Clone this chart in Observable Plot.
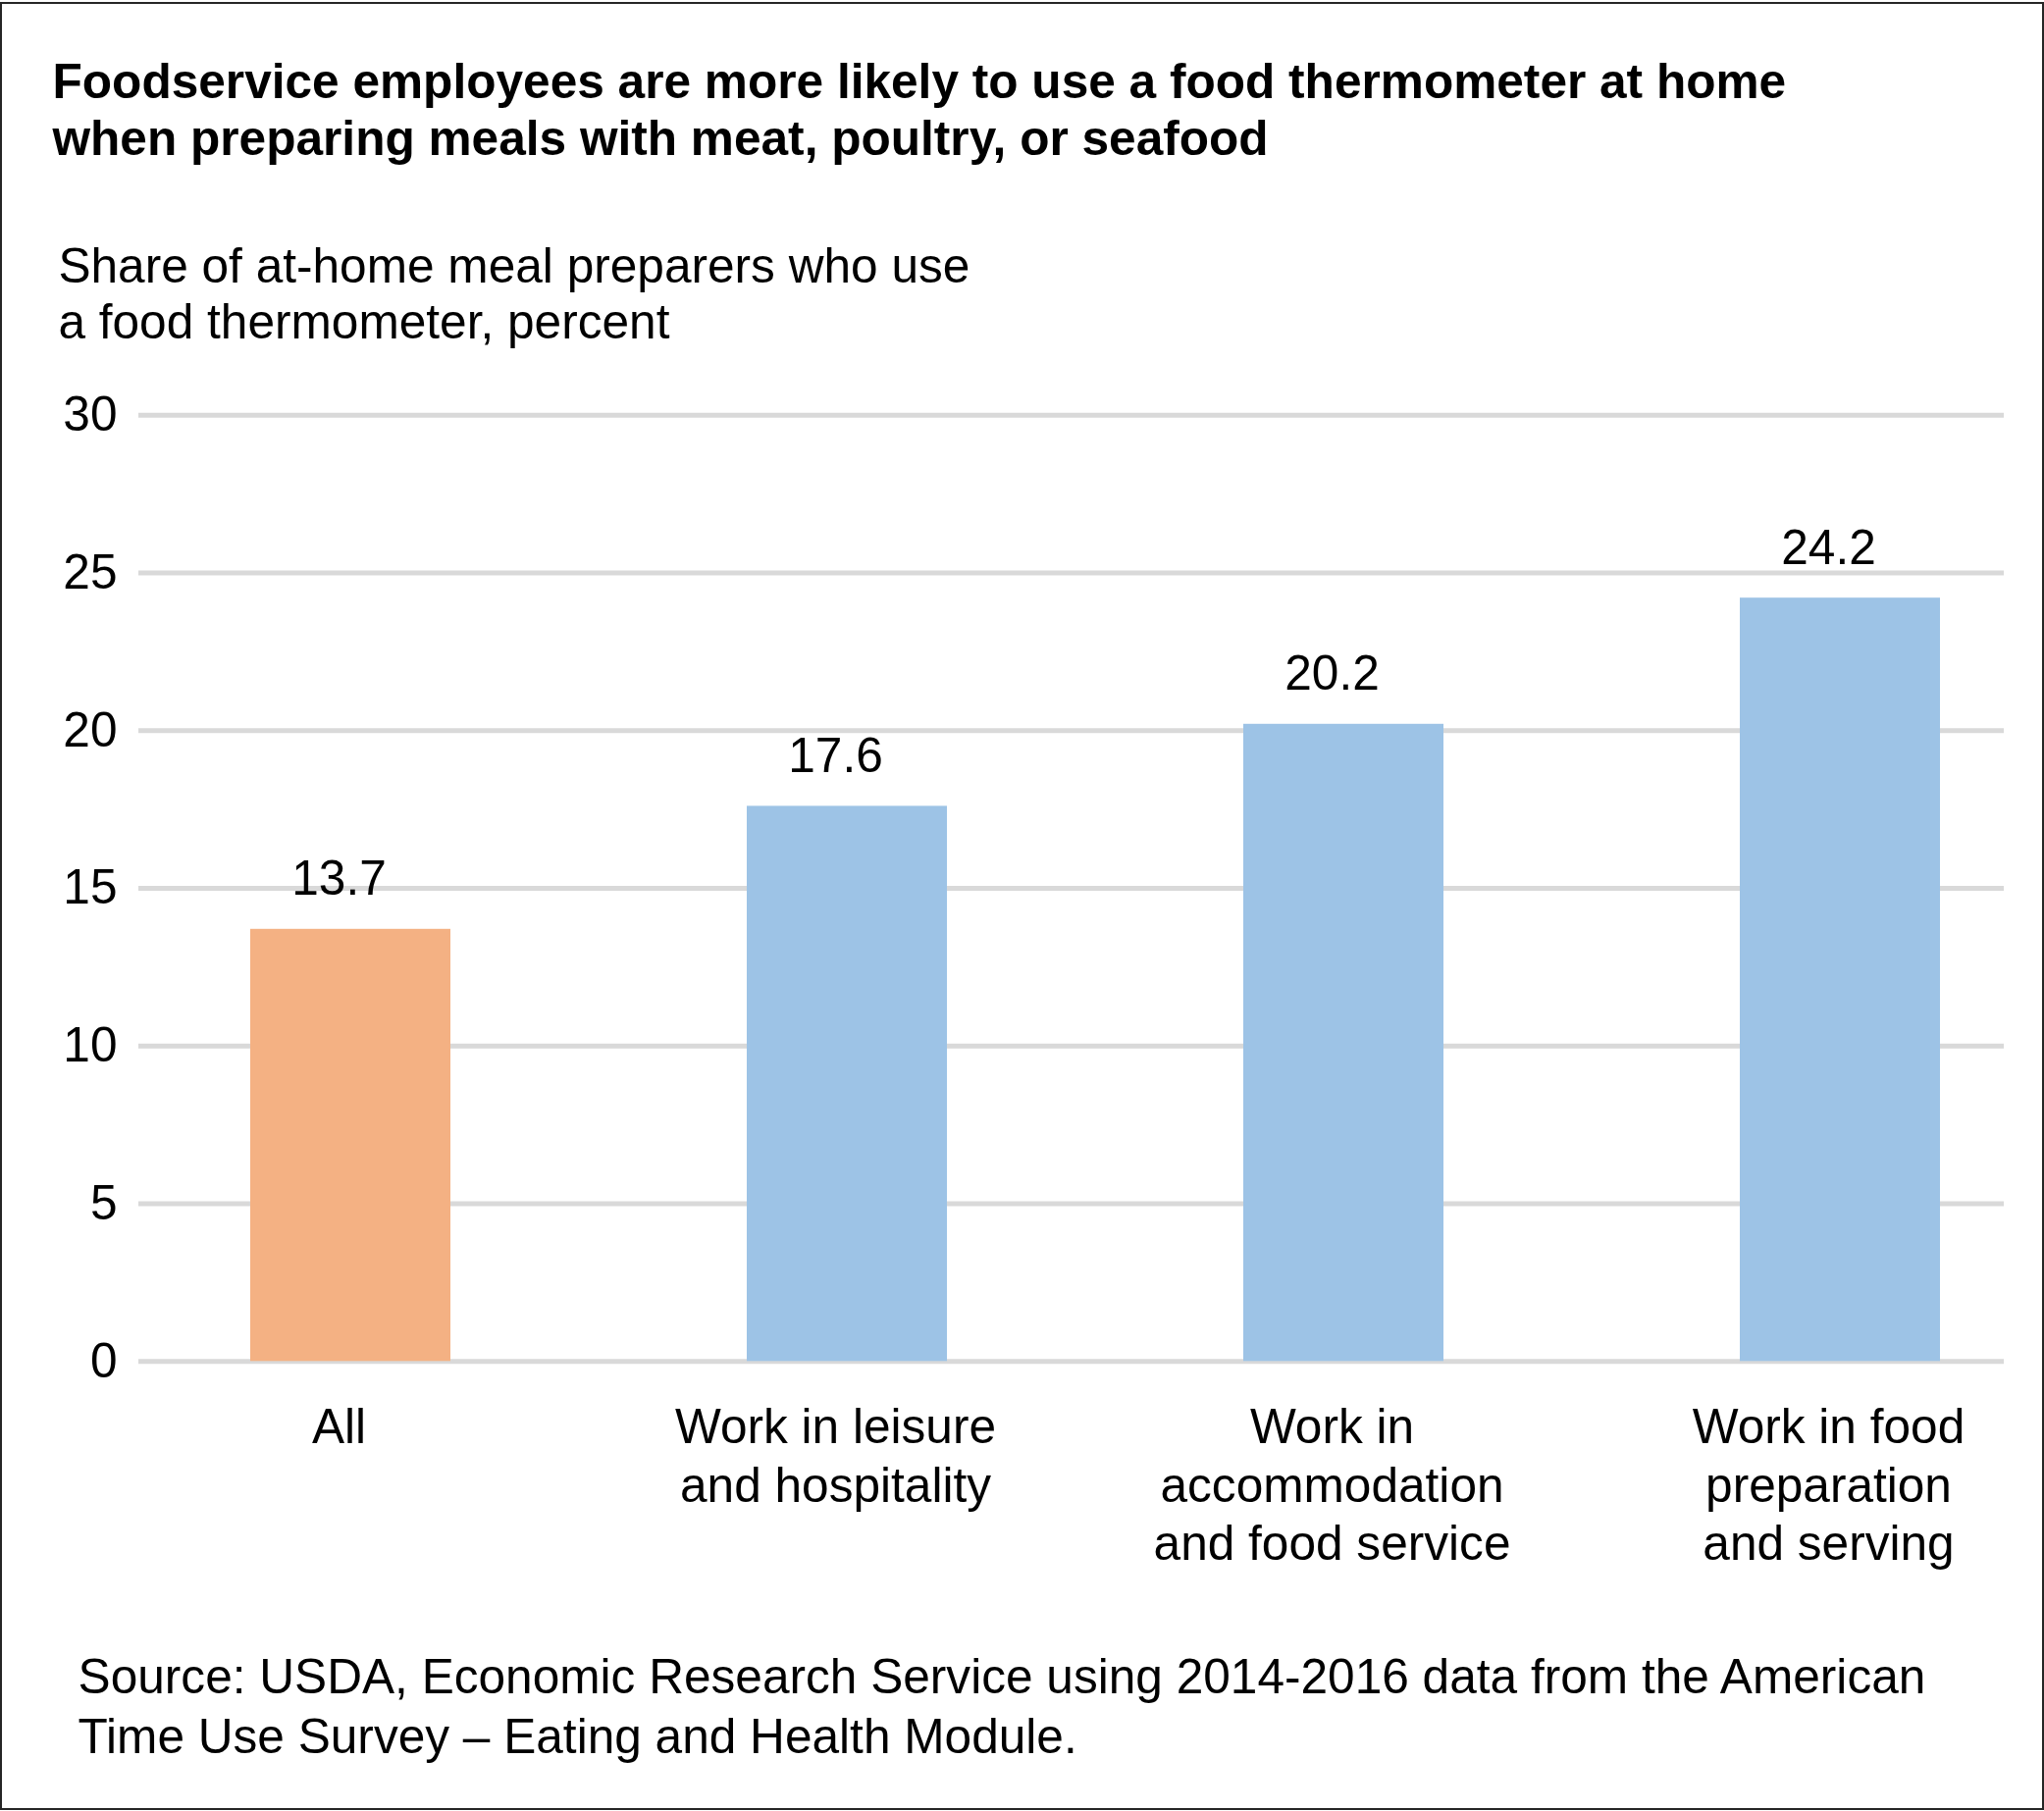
<!DOCTYPE html>
<html>
<head>
<meta charset="utf-8">
<script src="https://cdn.jsdelivr.net/npm/d3@7"></script>
<script src="https://cdn.jsdelivr.net/npm/@observablehq/plot@0.6"></script>
<style>
  html, body { margin: 0; padding: 0; background: #ffffff; }
  #page { position: relative; width: 2083px; height: 1846px; overflow: hidden; font-family: "Liberation Sans", Arial, Helvetica, sans-serif; color: #000; }
  #border { position: absolute; left: 0; top: 2px; width: 2083px; height: 1843px; box-sizing: border-box; border: 2px solid #262626; }
  .txt { position: absolute; white-space: nowrap; font-size: 49.6px; }
  #title { left: 53.5px; top: 53.6px; font-weight: bold; line-height: 58.5px; }
  #subtitle { left: 59.4px; top: 242.6px; line-height: 57px; }
  #source { left: 79.6px; top: 1678.7px; line-height: 61.6px; }
  #chart { position: absolute; left: 0; top: 360px; }
</style>
</head>
<body>
<div id="page">
  <div id="border"></div>
  <div id="title" class="txt"></div>
  <div id="subtitle" class="txt"></div>
  <div id="chart"></div>
  <div id="source" class="txt"></div>
</div>
<script>
// ---- Data ----
const titleLines = [
  "Foodservice employees are more likely to use a food thermometer at home",
  "when preparing meals with meat, poultry, or seafood"
];
const subtitleLines = [
  "Share of at-home meal preparers who use",
  "a food thermometer, percent"
];
const sourceLines = [
  "Source: USDA, Economic Research Service using 2014-2016 data from the American",
  "Time Use Survey \u2013 Eating and Health Module."
];
const categories = [
  "All",
  "Work in leisure\nand hospitality",
  "Work in\naccommodation\nand food service",
  "Work in food\npreparation\nand serving"
];
const values = [13.7, 17.6, 20.2, 24.2];
const groups = ["All", "Foodservice", "Foodservice", "Foodservice"];
const yTicks = [0, 5, 10, 15, 20, 25, 30];

// ---- Text blocks ----
document.getElementById("title").innerHTML = titleLines.join("<br>");
document.getElementById("subtitle").innerHTML = subtitleLines.join("<br>");
document.getElementById("source").innerHTML = sourceLines.join("<br>");

// ---- Chart ----
const data = categories.map((c, i) => ({category: c, value: values[i], group: groups[i]}));
const FS = 49.6;

const chart = Plot.plot({
  width: 2083,
  height: 1280,
  marginTop: 62.7,
  marginBottom: 252.7,
  marginLeft: 141,
  marginRight: 41,
  style: {
    fontFamily: '"Liberation Sans", Arial, Helvetica, sans-serif',
    fontSize: FS + "px",
    color: "#000",
    background: "transparent",
    overflow: "visible"
  },
  x: {type: "band", domain: categories, paddingInner: 0.597, paddingOuter: 0.1758, align: 0.635, label: null},
  y: {domain: [0, 30], label: null},
  color: {domain: ["All", "Foodservice"], range: ["#f4b183", "#9dc3e6"]},
  marks: [
    Plot.ruleY(yTicks, {stroke: "#d9d9d9", strokeWidth: 5}),
    Plot.barY(data, {x: "category", y: "value", fill: "group"}),
    Plot.text(data, {
      x: "category", y: "value", text: d => d.value.toFixed(1),
      lineAnchor: "bottom", dy: -35, dx: -12, fontSize: FS, fill: "#000"
    }),
    Plot.axisY({ticks: yTicks, tickSize: 0, tickPadding: 22, fontSize: FS, label: null, fill: "#000"}),
    Plot.axisX({tickSize: 0, tickPadding: 41, fontSize: FS, lineHeight: 1.2, label: null, dx: -12, fill: "#000"})
  ]
});
document.getElementById("chart").appendChild(chart);
</script>
</body>
</html>
